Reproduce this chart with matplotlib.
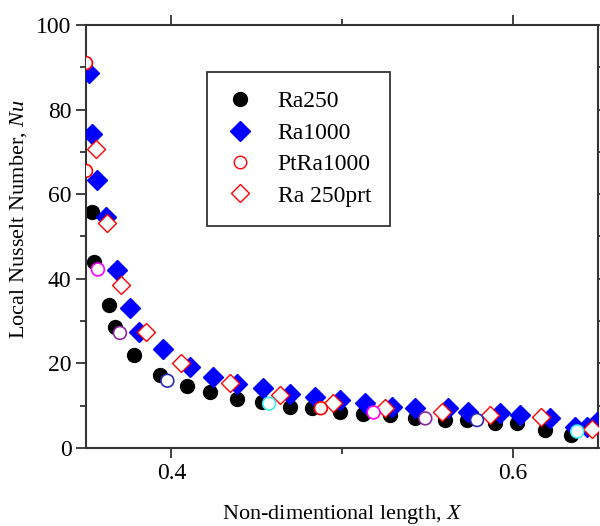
import matplotlib.pyplot as plt
from matplotlib.ticker import MultipleLocator

# values
x_ra250 = [0.3535, 0.3547, 0.3635, 0.3668, 0.378, 0.3934, 0.4094, 0.4227, 0.4384, 0.453,
           0.4697, 0.4824, 0.499, 0.5125, 0.528, 0.543, 0.5606, 0.5733, 0.5899, 0.6026,
           0.619, 0.634]
y_ra250 = [55.8, 44.0, 33.8, 28.5, 22.0, 17.2, 14.6, 13.2, 11.5, 10.9,
           9.8, 9.4, 8.6, 8.0, 7.8, 7.1, 6.6, 6.6, 5.9, 5.9,
           4.3, 3.1]

x_ra1000 = [0.3518, 0.3537, 0.3566, 0.3616, 0.3684, 0.3758, 0.381, 0.3954, 0.411, 0.4247,
            0.4384, 0.4536, 0.4697, 0.4843, 0.499, 0.5136, 0.5293, 0.543, 0.5623, 0.574,
            0.5928, 0.6045, 0.622, 0.6368, 0.6437, 0.6495]
y_ra1000 = [88.6, 74.3, 63.3, 54.6, 42.0, 33.1, 27.5, 23.5, 19.2, 16.8,
            15.1, 14.1, 12.8, 12.1, 11.3, 10.6, 9.8, 9.4, 9.4, 8.6,
            8.2, 7.8, 7.0, 5.0, 5.0, 6.2]

x_pt = [0.35, 0.35, 0.357, 0.3699, 0.3977, 0.4573, 0.4876, 0.5185, 0.5488, 0.5791, 0.6378]
y_pt = [91.0, 65.5, 42.2, 27.2, 15.9, 10.5, 9.4, 8.4, 7.0, 6.6, 3.9]
c_pt = ['#ff0000', '#ff0000', '#ff00ff', '#8a2a9a', '#2a2ab8', '#40f0f0',
        '#ff0000', '#ff00ff', '#8a2a9a', '#2a2ab8', '#40f0f0']

x_prt = [0.3557, 0.3621, 0.3705, 0.385, 0.4055, 0.4345, 0.4638, 0.4949, 0.5254,
         0.5586, 0.587, 0.6163, 0.6466]
y_prt = [70.8, 53.1, 38.5, 27.5, 20.0, 15.4, 12.5, 10.7, 9.4,
         8.6, 7.8, 7.4, 4.6]

plt.rcParams['font.family'] = ['Liberation Serif', 'DejaVu Serif']
plt.rcParams['mathtext.fontset'] = 'custom'
plt.rcParams['mathtext.it'] = 'Liberation Serif:italic'

fig = plt.figure(figsize=(6, 5.26), dpi=100, facecolor='white')
ax = fig.add_axes([0.1433, 0.1483, 0.8534, 0.8042])

ax.plot(x_ra250, y_ra250, 'o', color='black', markersize=10, label='Ra250', zorder=2)
ax.plot(x_ra1000, y_ra1000, 'D', color='blue', markersize=10, label='Ra1000', zorder=3)
ax.plot(x_prt, y_prt, 'D', markerfacecolor='white', markeredgecolor='red',
        markeredgewidth=1.0, markersize=9.5, label='Ra 250prt', zorder=4)
ax.scatter(x_pt, y_pt, s=85, facecolors='white', edgecolors=c_pt, linewidths=1.2, zorder=5)

# legend handles in legend order
h1, = ax.plot([], [], 'o', color='black', markersize=10)
h2, = ax.plot([], [], 'D', color='blue', markersize=10)
h3, = ax.plot([], [], 'o', markerfacecolor='white', markeredgecolor='red', markersize=9)
h4, = ax.plot([], [], 'D', markerfacecolor='white', markeredgecolor='red', markersize=9.5)
leg = ax.legend([h1, h2, h3, h4], ['Ra250', 'Ra1000', 'PtRa1000', 'Ra 250prt'],
                loc='upper left', bbox_to_anchor=(0.236, 0.889), borderaxespad=0,
                fontsize=17, frameon=True, fancybox=False, edgecolor='black',
                handletextpad=1.0, labelspacing=0.42, borderpad=0.8, handlelength=1.2)
leg.get_frame().set_linewidth(1.3)

ax.set_xlim(0.35, 0.65)
ax.set_ylim(0, 100)
ax.set_xticks([0.4, 0.6])
ax.xaxis.set_minor_locator(MultipleLocator(0.1))
ax.yaxis.set_major_locator(MultipleLocator(20))
ax.yaxis.set_minor_locator(MultipleLocator(10))
ax.tick_params(which='both', labelsize=17, width=1.3, color='#333333')
ax.tick_params(which='major', length=7)
ax.tick_params(which='minor', length=4)
ax.tick_params(which='both', top=True, right=True)

for s in ax.spines.values():
    s.set_linewidth(1.5)
    s.set_color('#333333')

ax.set_xlabel('Non-dimentional length, $\\mathit{X}$', fontsize=16, labelpad=14)
ax.set_ylabel('Local Nusselt Number, $\\mathit{Nu}$', fontsize=16)
ax.yaxis.set_label_coords(-0.112, 0.54)

fig.savefig('out.png', dpi=100)
